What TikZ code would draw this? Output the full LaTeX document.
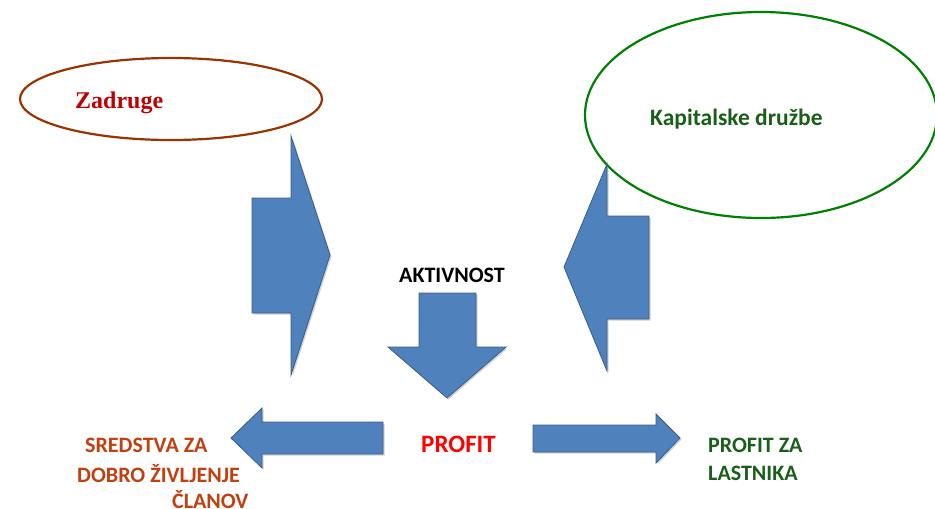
\documentclass[tikz,border=0pt]{standalone}
\usepackage{fontspec}
\setmainfont{Carlito}
\newfontfamily\timesfont{Liberation Serif}
\usetikzlibrary{shadows}
\definecolor{arrowblue}{RGB}{79,129,189}
\definecolor{arrowedge}{RGB}{56,93,138}
\definecolor{zadrugered}{RGB}{192,0,0}
\definecolor{zadrugerim}{RGB}{153,51,0}
\definecolor{sredred}{RGB}{192,64,16}
\definecolor{kapgreen}{RGB}{0,128,0}
\definecolor{kaptext}{RGB}{25,95,25}
\tikzset{
	bigarrow/.style={fill=arrowblue, draw=arrowedge, line width=.8pt, line join=miter,
		drop shadow={shadow xshift=1.5pt, shadow yshift=-1.5pt, opacity=.3, fill=black!60}},
	lbl/.style={font=\bfseries\fontsize{22}{28}\selectfont, anchor=base west, inner sep=0pt},
}
\begin{document}
\begin{tikzpicture}[x=1pt,y=-1pt]
			\useasboundingbox (0,0) rectangle (935,509);
			% the two kinds of firms
			\draw[zadrugerim, line width=2.2pt] (171,99) ellipse (151 and 41);
			\draw[kapgreen, line width=2.2pt] (761,115) ellipse (176 and 103);
			\node[font=\timesfont\bfseries\fontsize{24}{28}\selectfont, text=zadrugered, anchor=base west, inner sep=0pt] (zadruge) at (75,108) {Zadruge};
			\node[lbl, font=\bfseries\fontsize{23.5}{28}\selectfont, text=kaptext] (kapital) at (650,125) {Kapitalske družbe};
			% arrows
			\draw[bigarrow] (252,198)--(291,198)--(291,136)--(330,255)--(291,375)--(291,313)--(252,313)--cycle;
			\draw[bigarrow] (649,216)--(607,216)--(607,164)--(564,267)--(607,371)--(607,319)--(649,319)--cycle;
			\draw[bigarrow] (419,293)--(476,293)--(476,347)--(506,347)--(447,398)--(388,347)--(419,347)--cycle;
			\draw[bigarrow] (383,422)--(262,422)--(262,408)--(231,438)--(262,468)--(262,454)--(383,454)--cycle;
			\draw[bigarrow] (533,425)--(656,425)--(656,414)--(680,438)--(656,463)--(656,452)--(533,452)--cycle;
			% labels
			\node[lbl, anchor=base] (aktiv) at (452,282) {AKTIVNOST};
			\node[lbl, font=\bfseries\fontsize{25}{30}\selectfont, text=red] (profit) at (421,452) {PROFIT};
			\foreach \t/\xx/\yy [count=\i] in {SREDSTVA ZA/85/452, DOBRO ŽIVLJENJE/77/482, ČLANOV/172/508}
			\node[lbl, text=sredred] (sred\i) at (\xx,\yy) {\t};
			\foreach \t/\yy [count=\i] in {PROFIT ZA/452, LASTNIKA/480}
			\node[lbl, text=kaptext] (last\i) at (708,\yy) {\t};
		\end{tikzpicture}
\end{document}
